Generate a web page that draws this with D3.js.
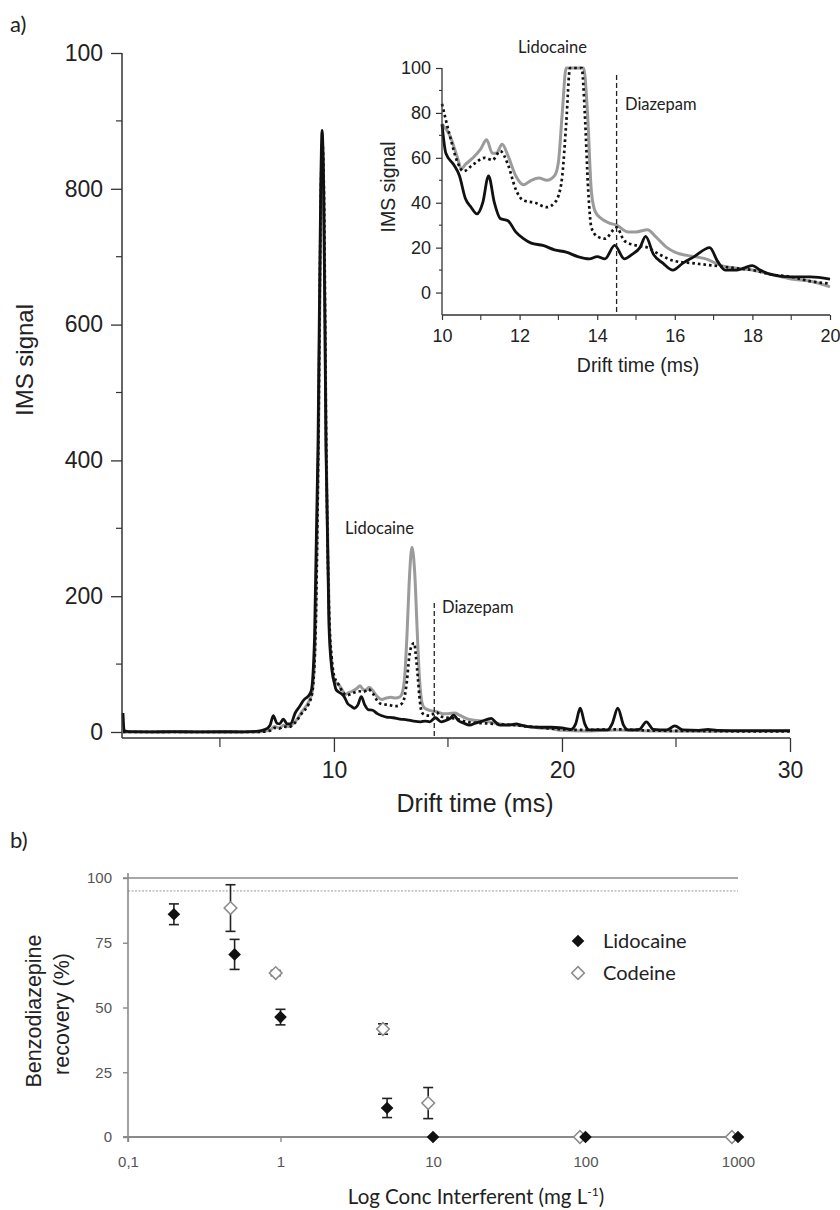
<!DOCTYPE html>
<html>
<head>
<meta charset="utf-8">
<script src="https://cdn.jsdelivr.net/npm/d3@7"></script>
<style>
  body { margin: 0; background: #fff; }
  svg { display: block; }
</style>
</head>
<body>
<svg width="840" height="1210"></svg>
<script>
// ---- panel a) IMS spectra ----
// black solid trace
var blackT = [0.75, 0.8, 1, 2, 3, 4, 5, 6, 6.6, 7.0, 7.2, 7.34, 7.5, 7.62, 7.78, 7.95, 8.1, 8.3, 8.5, 8.7, 8.85, 9.0, 9.15, 9.3, 9.42, 9.48, 9.55, 9.65, 9.78, 9.9,
  10.0, 10.1, 10.3, 10.45, 10.6, 10.75, 10.9, 11.05, 11.2, 11.35, 11.5, 11.7, 11.9, 12.1, 12.3, 12.6, 12.9, 13.2, 13.5, 13.8, 14.0, 14.2, 14.45, 14.7, 14.9,
  15.1, 15.25, 15.45, 15.7, 15.95, 16.2, 16.5, 16.9, 17.1, 17.3, 17.6, 17.8, 18.0, 18.2, 18.5, 19, 19.5, 20, 20.4, 20.6, 20.8, 21.0, 21.2, 22.0, 22.2, 22.45,
  22.7, 22.9, 23.4, 23.7, 24.0, 24.6, 24.95, 25.3, 26.0, 26.4, 26.8, 28, 30];
var blackY = [28, 2, 0.5, 0.3, 0.5, 0.2, 0.4, 0.3, 1, 4, 10, 24, 13, 12, 19, 12, 12, 28, 38, 48, 52, 60, 140, 420, 800, 886, 800, 420, 160, 95,
  75, 62, 57, 52, 42, 38, 35, 40, 52, 40, 33, 32, 27, 24, 22, 21, 19, 18, 16, 15, 16, 15, 21, 15, 17,
  20, 25, 17, 13, 10, 13, 16, 20, 14, 10, 10, 11, 12, 10, 8, 7, 7, 6, 4, 12, 35, 12, 3, 3, 12, 35,
  10, 3, 4, 15, 4, 3, 9, 3, 2.5, 4, 2.5, 2, 2];

// grey solid trace
var greyT = [0.75, 2, 6.6, 7.2, 7.4, 7.6, 7.8, 8.0, 8.3, 8.6, 8.9, 9.05, 9.2, 9.32, 9.43, 9.49, 9.56, 9.66, 9.79, 9.9,
  10.0, 10.2, 10.4, 10.5, 10.6, 10.8, 11.0, 11.15, 11.3, 11.4, 11.55, 11.7, 11.9, 12.1, 12.3, 12.5, 12.7, 12.9, 13.0, 13.1, 13.2, 13.3, 13.42,
  13.55, 13.65, 13.75, 13.85, 13.95, 14.1, 14.3, 14.5, 14.8, 15.0, 15.3, 15.5, 15.8, 16.0, 16.5, 16.8, 17.2, 17.5, 18.0, 18.5, 19, 19.5, 20,
  21, 22.4, 24, 26, 28, 30];
var greyY = [0, 0, 0, 3, 8, 6, 10, 8, 15, 30, 45, 60, 160, 420, 780, 860, 780, 420, 170, 100,
  75, 70, 60, 55, 57, 60, 64, 68, 62, 62, 66, 61, 52, 48, 50, 51, 50, 52, 58, 80, 140, 220, 272,
  230, 150, 80, 45, 36, 33, 31, 30, 27, 27, 28, 25, 20, 18, 16, 15, 12, 11, 10, 8, 6, 5, 2.5,
  1.5, 3, 1.5, 1, 1, 1];

// black dotted trace
var dotT = [0.75, 6.6, 7.2, 7.4, 7.6, 7.8, 8.0, 8.3, 8.6, 8.9, 9.05, 9.2, 9.32, 9.43, 9.49, 9.56, 9.66, 9.79, 9.9,
  10.0, 10.2, 10.4, 10.55, 10.8, 11.1, 11.3, 11.5, 11.7, 11.9, 12.1, 12.4, 12.7, 12.9, 13.0, 13.1, 13.2, 13.3, 13.42, 13.52, 13.6, 13.68,
  13.77, 13.85, 14.0, 14.2, 14.5, 14.7, 15.0, 15.3, 15.6, 16.0, 16.5, 17.0, 17.5, 18.0, 18.5, 19, 19.5, 20,
  20.8, 22.4, 24, 26, 28, 30];
var dotY = [0, 0, 2, 6, 5, 8, 7, 14, 28, 42, 58, 155, 430, 800, 870, 800, 430, 175, 110,
  84, 70, 58, 54, 57, 60, 59, 63, 57, 46, 41, 40, 38, 40, 43, 52, 75, 110, 128, 131, 110, 80,
  45, 29, 25, 24, 29, 23, 21, 20, 17, 14, 13, 12, 11, 10, 8, 7, 5, 4,
  3, 4, 2, 1.5, 1, 1];

var mainYTicks = [0, 200, 400, 600, 800, 1000];
var mainYTickLabels = ["0", "200", "400", "600", "800", "100"];
var mainXTicks = [10, 20, 30];
var insetXTicks = [10, 12, 14, 16, 18, 20];
var insetYTicks = [0, 20, 40, 60, 80, 100];
var diazepamMain = 14.4;
var diazepamInset = 14.5;

// ---- panel b) recovery ----
var lidoConc = [0.2, 0.5, 1, 5, 10, 100, 1000];
var lidoRec = [86, 70.5, 46.3, 11.2, 0, 0, 0];
var lidoErr = [4, 5.8, 3, 3.7, 0, 0, 0];
var codConc = [0.47, 0.93, 4.7, 9.3, 92, 912];
var codRec = [88.4, 63.3, 41.7, 13.1, 0, 0];
var codErr = [9, 1, 2, 6, 0, 0];
var recTicks = [0, 25, 50, 75, 100];
var concTicks = [0.1, 1, 10, 100, 1000];
var concTickLabels = ["0,1", "1", "10", "100", "1000"];

var svg = d3.select("svg");
var arial = "'Liberation Sans', Arial, sans-serif";
var calibri = "Lato, 'Open Sans', sans-serif";

function pairs(t, y) { return t.map(function (d, i) { return [d, y[i]]; }); }
var series = [
  { pts: pairs(greyT, greyY), color: "#9b9b9b", width: 3, dash: null },
  { pts: pairs(dotT, dotY), color: "#111", width: 2.7, dash: "2.6,3" },
  { pts: pairs(blackT, blackY), color: "#111", width: 2.8, dash: null }
];

// main plot scales
var x = d3.scaleLinear().domain([0.75, 30]).range([123, 790]);
var y = d3.scaleLinear().domain([0, 1000]).range([732, 53]);

var main = svg.append("g");

main.selectAll("path.trace")
  .data(series)
  .enter().append("path")
  .attr("class", "trace")
  .attr("fill", "none")
  .attr("stroke", function (d) { return d.color; })
  .attr("stroke-width", function (d) { return d.width; })
  .attr("stroke-dasharray", function (d) { return d.dash; })
  .attr("stroke-linejoin", "round")
  .attr("d", function (d) {
    return d3.line().x(function (p) { return x(p[0]); }).y(function (p) { return y(p[1]); })
      .curve(d3.curveMonotoneX)(d.pts);
  });

// frame
main.append("line").attr("x1", 122).attr("x2", 122).attr("y1", y(1000)).attr("y2", 738)
  .attr("stroke", "#333").attr("stroke-width", 1.5);
main.append("line").attr("x1", 122).attr("x2", 790).attr("y1", 738).attr("y2", 738)
  .attr("stroke", "#333").attr("stroke-width", 1.5);

// y axis ticks
var yAxis = d3.axisLeft(y).tickValues(mainYTicks).tickSize(11).tickPadding(8)
  .tickFormat(function (d, i) { return mainYTickLabels[i]; });
var gy = main.append("g").attr("transform", "translate(122,0)").call(yAxis);
gy.select(".domain").remove();
gy.selectAll("line").attr("stroke", "#333").attr("stroke-width", 1.3);
gy.selectAll("text").attr("font-family", arial).attr("font-size", 23).attr("fill", "#222");
main.selectAll("line.ymin")
  .data(d3.range(100, 1000, 200))
  .enter().append("line").attr("class", "ymin")
  .attr("x1", 116).attr("x2", 122)
  .attr("y1", function (d) { return y(d); }).attr("y2", function (d) { return y(d); })
  .attr("stroke", "#333").attr("stroke-width", 1.2);

// x axis ticks
var xAxis = d3.axisBottom(x).tickValues(mainXTicks).tickSize(14).tickPadding(10).tickFormat(d3.format("d"));
var gx = main.append("g").attr("transform", "translate(0,738)").call(xAxis);
gx.select(".domain").remove();
gx.selectAll("line").attr("stroke", "#333").attr("stroke-width", 1.3);
gx.selectAll("text").attr("font-family", arial).attr("font-size", 23).attr("fill", "#222");
main.selectAll("line.xmin")
  .data([5, 15, 25])
  .enter().append("line").attr("class", "xmin")
  .attr("x1", function (d) { return x(d); }).attr("x2", function (d) { return x(d); })
  .attr("y1", 738).attr("y2", 747)
  .attr("stroke", "#333").attr("stroke-width", 1.2);

main.append("text").attr("transform", "translate(33,360) rotate(-90)")
  .attr("text-anchor", "middle").attr("font-family", arial).attr("font-size", 24).attr("fill", "#222")
  .text("IMS signal");
main.append("text").attr("x", 475).attr("y", 812)
  .attr("text-anchor", "middle").attr("font-family", arial).attr("font-size", 25).attr("fill", "#222")
  .text("Drift time (ms)");

// diazepam marker + labels
main.append("line").attr("x1", x(diazepamMain)).attr("x2", x(diazepamMain)).attr("y1", 603).attr("y2", 738)
  .attr("stroke", "#222").attr("stroke-width", 1.3).attr("stroke-dasharray", "5,3");
main.append("text").attr("x", 345).attr("y", 534).attr("font-family", calibri).attr("font-size", 16.5)
  .attr("fill", "#222").text("Lidocaine");
main.append("text").attr("x", 442).attr("y", 613).attr("font-family", calibri).attr("font-size", 16.5)
  .attr("fill", "#222").text("Diazepam");

svg.append("text").attr("x", 10).attr("y", 32).attr("font-family", calibri).attr("font-size", 22)
  .attr("fill", "#222").text("a)");

// ---- inset ----
var xi = d3.scaleLinear().domain([10, 20]).range([442, 830]);
var yi = d3.scaleLinear().domain([-10, 100]).range([315, 68]);
var inset = svg.append("g");

inset.selectAll("path.trace")
  .data(series)
  .enter().append("path")
  .attr("class", "trace")
  .attr("fill", "none")
  .attr("stroke", function (d) { return d.color; })
  .attr("stroke-width", function (d) { return d.width; })
  .attr("stroke-dasharray", function (d) { return d.dash; })
  .attr("stroke-linejoin", "round")
  .attr("d", function (d) {
    var pts = d.pts.filter(function (p) { return p[0] >= 10 && p[0] <= 20; });
    // signal saturates at 100 in the zoomed view
    return d3.line().x(function (p) { return xi(p[0]); }).y(function (p) { return yi(Math.min(p[1], 100)); })
      .curve(d3.curveMonotoneX)(pts);
  });

inset.append("line").attr("x1", 442).attr("x2", 442).attr("y1", yi(100)).attr("y2", 315)
  .attr("stroke", "#333").attr("stroke-width", 1.3);
inset.append("line").attr("x1", 442).attr("x2", 830).attr("y1", 315).attr("y2", 315)
  .attr("stroke", "#333").attr("stroke-width", 1.3);

var yAxisI = d3.axisLeft(yi).tickValues(insetYTicks).tickSize(6).tickPadding(5).tickFormat(d3.format("d"));
var gyi = inset.append("g").attr("transform", "translate(442,0)").call(yAxisI);
gyi.select(".domain").remove();
gyi.selectAll("line").attr("stroke", "#333").attr("stroke-width", 1.2);
gyi.selectAll("text").attr("font-family", arial).attr("font-size", 18).attr("fill", "#222");
inset.selectAll("line.ymin")
  .data(d3.range(10, 100, 20))
  .enter().append("line").attr("class", "ymin")
  .attr("x1", 439).attr("x2", 442)
  .attr("y1", function (d) { return yi(d); }).attr("y2", function (d) { return yi(d); })
  .attr("stroke", "#333").attr("stroke-width", 1.1);

var xAxisI = d3.axisBottom(xi).tickValues(insetXTicks).tickSize(5).tickPadding(9).tickFormat(d3.format("d"));
var gxi = inset.append("g").attr("transform", "translate(0,315)").call(xAxisI);
gxi.select(".domain").remove();
gxi.selectAll("line").attr("stroke", "#333").attr("stroke-width", 1.2);
gxi.selectAll("text").attr("font-family", arial).attr("font-size", 18).attr("fill", "#222");
inset.selectAll("line.xmin")
  .data(d3.range(11, 20, 2))
  .enter().append("line").attr("class", "xmin")
  .attr("x1", function (d) { return xi(d); }).attr("x2", function (d) { return xi(d); })
  .attr("y1", 315).attr("y2", 320)
  .attr("stroke", "#333").attr("stroke-width", 1.1);

inset.append("text").attr("transform", "translate(395,187) rotate(-90)")
  .attr("text-anchor", "middle").attr("font-family", arial).attr("font-size", 19.5).attr("fill", "#222")
  .text("IMS signal");
inset.append("text").attr("x", 638).attr("y", 372)
  .attr("text-anchor", "middle").attr("font-family", arial).attr("font-size", 19.5).attr("fill", "#222")
  .text("Drift time (ms)");

inset.append("line").attr("x1", xi(diazepamInset)).attr("x2", xi(diazepamInset)).attr("y1", 75).attr("y2", 315)
  .attr("stroke", "#222").attr("stroke-width", 1.3).attr("stroke-dasharray", "5,3");
inset.append("text").attr("x", 518).attr("y", 53).attr("font-family", calibri).attr("font-size", 16.5)
  .attr("fill", "#222").text("Lidocaine");
inset.append("text").attr("x", 625).attr("y", 110).attr("font-family", calibri).attr("font-size", 16.5)
  .attr("fill", "#222").text("Diazepam");

// ---- panel b) ----
var xb = d3.scaleLog().domain([0.1, 1000]).range([128, 738]);
var yb = d3.scaleLinear().domain([0, 100]).range([1137, 878]);
var pb = svg.append("g");

svg.append("text").attr("x", 10).attr("y", 848).attr("font-family", calibri).attr("font-size", 22)
  .attr("fill", "#222").text("b)");

// reference lines at 100 % and 95 %
pb.append("line").attr("x1", 123).attr("x2", 738).attr("y1", yb(100)).attr("y2", yb(100))
  .attr("stroke", "#8a8a8a").attr("stroke-width", 1.6);
pb.append("line").attr("x1", 128).attr("x2", 738).attr("y1", yb(95)).attr("y2", yb(95))
  .attr("stroke", "#999").attr("stroke-width", 1).attr("stroke-dasharray", "2,1.5");
pb.append("line").attr("x1", 128).attr("x2", 128).attr("y1", 873).attr("y2", 1142)
  .attr("stroke", "#8a8a8a").attr("stroke-width", 1.6);
pb.append("line").attr("x1", 123).attr("x2", 738).attr("y1", yb(0)).attr("y2", yb(0))
  .attr("stroke", "#8a8a8a").attr("stroke-width", 1.8);

var yAxisB = d3.axisLeft(yb).tickValues(recTicks).tickSize(5).tickPadding(11).tickFormat(d3.format("d"));
var gyb = pb.append("g").attr("transform", "translate(128,0)").call(yAxisB);
gyb.select(".domain").remove();
gyb.selectAll("line").attr("stroke", "#8a8a8a").attr("stroke-width", 1.4);
gyb.selectAll("text").attr("font-family", arial).attr("font-size", 15).attr("fill", "#555");

var xAxisB = d3.axisBottom(xb).tickValues(concTicks).tickSize(5).tickPadding(14)
  .tickFormat(function (d, i) { return concTickLabels[i]; });
var gxb = pb.append("g").attr("transform", "translate(0," + yb(0) + ")").call(xAxisB);
gxb.select(".domain").remove();
gxb.selectAll("line").attr("stroke", "#8a8a8a").attr("stroke-width", 1.4);
gxb.selectAll("text").attr("font-family", arial).attr("font-size", 15).attr("fill", "#555");

var lido = lidoConc.map(function (c, i) { return { c: c, r: lidoRec[i], e: lidoErr[i] }; });
var cod = codConc.map(function (c, i) { return { c: c, r: codRec[i], e: codErr[i] }; });

function errorBars(data, cls) {
  var g = pb.selectAll("g." + cls).data(data.filter(function (d) { return d.e > 0; }))
    .enter().append("g").attr("class", cls)
    .attr("stroke", "#222").attr("stroke-width", 1.6);
  g.append("line")
    .attr("x1", function (d) { return xb(d.c); }).attr("x2", function (d) { return xb(d.c); })
    .attr("y1", function (d) { return yb(d.r + d.e); }).attr("y2", function (d) { return yb(d.r - d.e); });
  g.append("line")
    .attr("x1", function (d) { return xb(d.c) - 5; }).attr("x2", function (d) { return xb(d.c) + 5; })
    .attr("y1", function (d) { return yb(d.r + d.e); }).attr("y2", function (d) { return yb(d.r + d.e); });
  g.append("line")
    .attr("x1", function (d) { return xb(d.c) - 5; }).attr("x2", function (d) { return xb(d.c) + 5; })
    .attr("y1", function (d) { return yb(d.r - d.e); }).attr("y2", function (d) { return yb(d.r - d.e); });
}
errorBars(cod, "errc");
errorBars(lido, "errl");

var diamond = d3.symbol().type(d3.symbolSquare).size(80);

pb.selectAll("path.cod")
  .data(cod)
  .enter().append("path").attr("class", "cod")
  .attr("d", diamond)
  .attr("transform", function (d) { return "translate(" + xb(d.c) + "," + yb(d.r) + ") rotate(45)"; })
  .attr("fill", "#fff").attr("stroke", "#8a8a8a").attr("stroke-width", 1.5);

pb.selectAll("path.lido")
  .data(lido)
  .enter().append("path").attr("class", "lido")
  .attr("d", diamond)
  .attr("transform", function (d) { return "translate(" + xb(d.c) + "," + yb(d.r) + ") rotate(45)"; })
  .attr("fill", "#111");

// legend
var legend = [
  { name: "Lidocaine", fill: "#111", stroke: "none", y: 941 },
  { name: "Codeine", fill: "#fff", stroke: "#8a8a8a", y: 973 }
];
var lg = pb.selectAll("g.legend").data(legend).enter().append("g").attr("class", "legend");
lg.append("path").attr("d", diamond)
  .attr("transform", function (d) { return "translate(578," + d.y + ") rotate(45)"; })
  .attr("fill", function (d) { return d.fill; })
  .attr("stroke", function (d) { return d.stroke; }).attr("stroke-width", 1.5);
lg.append("text").attr("x", 603).attr("y", function (d) { return d.y + 7; })
  .attr("font-family", calibri).attr("font-size", 20).attr("fill", "#222")
  .text(function (d) { return d.name; });

pb.append("text").attr("transform", "translate(41,1011) rotate(-90)")
  .attr("text-anchor", "middle").attr("font-family", arial).attr("font-size", 21.5).attr("fill", "#222")
  .text("Benzodiazepine");
pb.append("text").attr("transform", "translate(69,1014) rotate(-90)")
  .attr("text-anchor", "middle").attr("font-family", arial).attr("font-size", 21.5).attr("fill", "#222")
  .text("recovery (%)");

var xt = pb.append("text").attr("x", 476).attr("y", 1204)
  .attr("text-anchor", "middle").attr("font-family", calibri).attr("font-size", 20.5).attr("fill", "#222");
xt.append("tspan").text("Log Conc Interferent (mg L");
xt.append("tspan").attr("font-size", 12).attr("dy", -8).text("-1");
xt.append("tspan").attr("dy", 8).text(")");
</script>
</body>
</html>
